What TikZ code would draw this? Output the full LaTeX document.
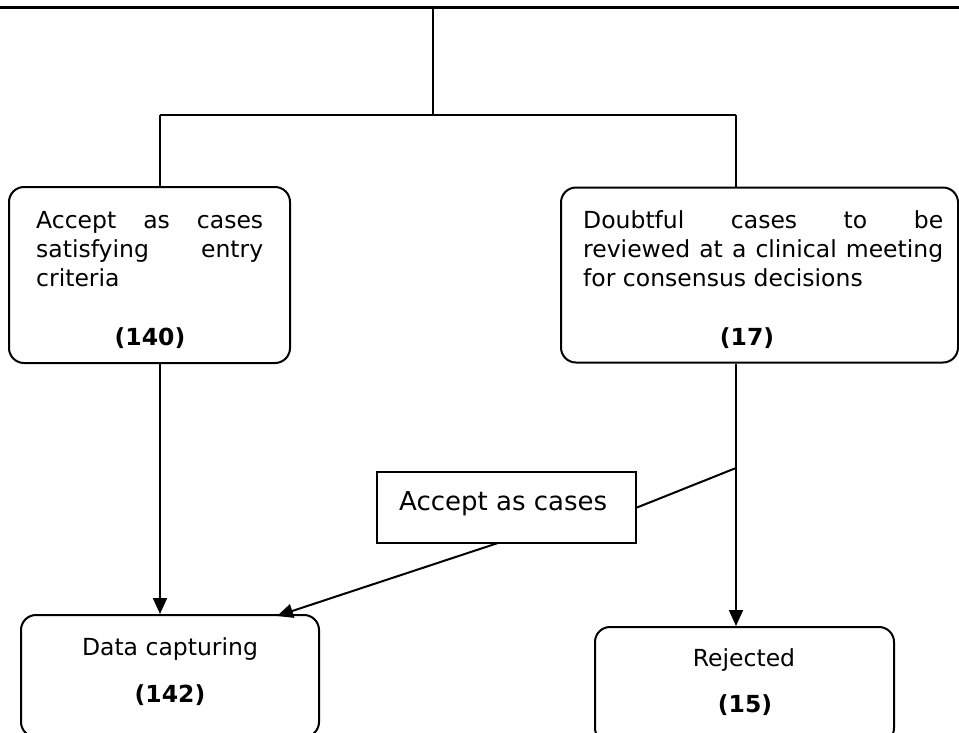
\documentclass[tikz,border=0pt]{standalone}
\usepackage{fontspec}
\setmainfont{DejaVu Sans}
\usetikzlibrary{arrows.meta}
\begin{document}
\begin{tikzpicture}[x=1pt,y=-1pt,
  conn/.style={line width=2pt},
  arr/.style={conn,-{Triangle[length=16pt,width=14pt]}},
  rbox/.style={draw,line width=2pt,rounded corners=15pt,inner sep=0pt},
  sbox/.style={draw,line width=2pt,inner sep=0pt},
  txt/.style={inner sep=0pt,anchor=base west,font=\fontsize{23.5}{29}\selectfont},
  ctxt/.style={inner sep=0pt,anchor=base,font=\fontsize{23.5}{29}\selectfont},
  btxt/.style={inner sep=0pt,anchor=base,font=\fontsize{23.5}{29}\selectfont\bfseries}]
\useasboundingbox (0,0) rectangle (959,732);
% boxes
\node[rbox,minimum width=281pt,minimum height=176pt] (lbox) at (149.5,275) {};
\node[rbox,minimum width=397pt,minimum height=175pt] (rbox) at (759.5,275) {};
\node[sbox,minimum width=259pt,minimum height=71pt] (mbox) at (506.5,507.5) {};
\node[rbox,minimum width=298pt,minimum height=122pt] (dbox) at (170,676) {};
\node[rbox,minimum width=299pt,minimum height=116pt] (jbox) at (744.5,685) {};
% texts
\node[txt] (l1) at (36,228) {\makebox[227pt][s]{Accept as cases}};
\node[txt] (l2) at (36,257) {\makebox[227pt][s]{satisfying entry}};
\node[txt] (l3) at (36,286) {criteria};
\node[btxt] (l4) at (150,345) {(140)};
\node[txt] (r1) at (583,228) {\makebox[360pt][s]{Doubtful cases to be}};
\node[txt] (r2) at (583,257) {\makebox[360pt][s]{reviewed at a clinical meeting}};
\node[txt] (r3) at (583,286) {for consensus decisions};
\node[btxt] (r4) at (747,345) {(17)};
\node[inner sep=0pt,anchor=base west,font=\fontsize{26}{30}\selectfont] (m1) at (399,510) {Accept as cases};
\node[ctxt] (d1) at (170,655) {Data capturing};
\node[btxt] (d2) at (170,702) {(142)};
\node[ctxt] (j1) at (744,666) {Rejected};
\node[btxt] (j2) at (745,712) {(15)};
% connector coordinates
\coordinate (tl) at (0,7.5);
\coordinate (tr) at (959,7.5);
\coordinate (tm) at (433,7.5);
\coordinate (hm) at (433,115);
\coordinate (hl) at (160,115);
\coordinate (hr) at (736,115);
\coordinate (vj) at (736,468);
% connectors
\draw[line width=2.5pt] (tl) -- (tr);
\draw[conn] (tm) -- (hm);
\draw[conn] (hl) -- (hr);
\draw[conn] (hl) -- (hl |- lbox.north);
\draw[conn] (hr) -- (hr |- rbox.north);
\draw[arr] (hl |- lbox.south) -- (hl |- dbox.north);
\draw[arr] (hr |- rbox.south) -- (hr |- jbox.north);
\draw[conn] (vj) -- (mbox.east);
\draw[arr] (498,543) -- (277,616);
\end{tikzpicture}
\end{document}
